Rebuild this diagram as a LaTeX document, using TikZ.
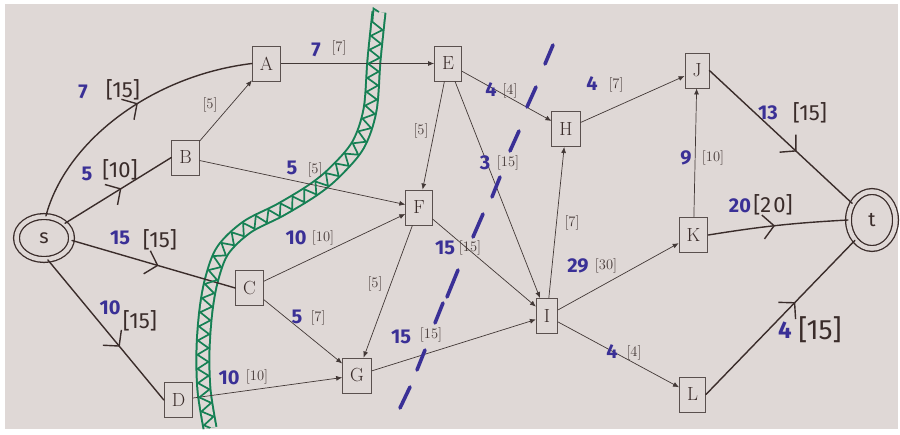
\documentclass[tikz,border=0pt]{standalone}
\usepackage{fontspec}
\newfontfamily\handfont{Fira Sans}
\usetikzlibrary{arrows.meta,decorations.markings,decorations.pathmorphing,shapes.geometric}
\definecolor{paper}{RGB}{223,216,214}
\definecolor{handink}{RGB}{58,44,42}
\definecolor{linecol}{RGB}{66,56,54}
\definecolor{boxcol}{RGB}{90,80,78}
\definecolor{printtext}{RGB}{70,58,56}
\definecolor{bluec}{RGB}{58,48,150}
\definecolor{greenc}{RGB}{22,128,84}
\tikzset{
  box/.style={draw=boxcol, line width=0.9pt, inner xsep=7.5pt, inner ysep=0pt, minimum height=35pt, font=\fontsize{19}{19}\selectfont, text=handink},
  pedge/.style={draw=linecol, line width=0.7pt, -{Latex[length=6pt,width=5pt]}},
  plabel/.style={font=\fontsize{14.5}{15}\selectfont, text=printtext, inner sep=0pt},
  bluenum/.style={font=\handfont\bfseries\fontsize{20}{20}\selectfont, text=bluec, inner sep=0pt},
  handbr/.style={font=\handfont\fontsize{22}{22}\selectfont, text=handink, inner sep=0pt},
  handedge/.style={draw=handink, line width=1.4pt, line cap=round, postaction={decorate},
    decoration={markings, mark=at position #1 with {\arrow{Straight Barb[length=11pt,width=24pt,line width=1.4pt,color=handink]}}}},
  handedge/.default=0.5,
  terminal/.style={ellipse, draw=handink, line width=1.3pt, double=paper, double distance=4.5pt, inner sep=0pt, font=\handfont\fontsize{20}{20}\selectfont, text=handink},
  bluedash/.style={draw=bluec, line width=3.6pt, line cap=round}
}
\begin{document}
\begin{tikzpicture}[x=1pt,y=-1pt]
\useasboundingbox (0,0) rectangle (900,434);
\fill[white] (0,0) rectangle (900,434);
\fill[paper] (5,4) rectangle (898,429);

% green cut: rails
\draw[greenc, line width=15pt] plot[smooth,tension=0.55] coordinates {(379,12) (374,60) (370,110) (358,145) (335,172) (313,190) (280,210) (247,227) (223,250) (212,278) (206,310) (203,350) (204,390) (210,428)};
\draw[paper, line width=11pt] plot[smooth,tension=0.55] coordinates {(379,12) (374,60) (370,110) (358,145) (335,172) (313,190) (280,210) (247,227) (223,250) (212,278) (206,310) (203,350) (204,390) (210,428)};

% nodes
\node[box] (A) at (266.5,63.5) {A};
\node[box] (B) at (185.5,157.5) {B};
\node[box] (C) at (249.5,288) {C};
\node[box] (D) at (178.5,400) {D};
\node[box] (E) at (448,63.5) {E};
\node[box] (F) at (419,207.5) {F};
\node[box] (G) at (357,375.5) {G};
\node[box] (H) at (566,129) {H};
\node[box] (I) at (547,316) {I};
\node[box] (J) at (697,70.5) {J};
\node[box] (K) at (693.5,235) {K};
\node[box] (L) at (692.5,394.5) {L};
\node[terminal, minimum width=55pt, minimum height=43pt] (s) at (44,238) {s};
\node[terminal, minimum width=47pt, minimum height=57pt] (t) at (872,220) {t};

% printed edges
\draw[pedge] (A) -- (E);
\draw[pedge] (B) -- (A);
\draw[pedge] (B) -- (F);
\draw[pedge] (E) -- (F);
\draw[pedge] (E) -- (H);
\draw[pedge] (E) -- (I);
\draw[pedge] (H) -- (J);
\draw[pedge] (I) -- (H);
\draw[pedge] (K) -- (J);
\draw[pedge] (C) -- (F);
\draw[pedge] (C) -- (G);
\draw[pedge] (F) -- (G);
\draw[pedge] (F) -- (I);
\draw[pedge] (G) -- (I);
\draw[pedge] (D) -- (G);
\draw[pedge] (I) -- (K);
\draw[pedge] (I) -- (L);

% hand-drawn edges
\draw[handedge=0.55] (s.85) .. controls +(20,-75) and +(-100,12) .. (A.west);
\draw[handedge=0.53] (s.35) -- (B.west);
\draw[handedge=0.53] (s.-5) -- (C.west);
\draw[handedge=0.62] (s.-80) -- (D.west);
\draw[handedge=0.61] (J.east) -- (t.140);
\draw[handedge=0.48] (K.east) to[bend left=3] (t.west);
\draw[handedge=0.6] (L.east) -- (t.-130);

% green zigzag
\draw[greenc, line width=1.7pt, decorate, decoration={zigzag, amplitude=5.5pt, segment length=14pt}] plot[smooth,tension=0.55] coordinates {(379,12) (374,60) (370,110) (358,145) (335,172) (313,190) (280,210) (247,227) (223,250) (212,278) (206,310) (203,350) (204,390) (210,428)};

% blue dashed cut
\draw[bluedash] (553,45) -- (545,64);
\draw[bluedash] (536,87) -- (527,107);
\draw[bluedash] (519,131) -- (510,151);
\draw[bluedash] (500,177) -- (492,197);
\draw[bluedash] (483,214) -- (473,237);
\draw[bluedash] (458,270) -- (447,297);
\draw[bluedash] (443,303) -- (435,323);
\draw[bluedash] (425,350) -- (417,370);
\draw[bluedash] (410,387) -- (400,408);

% hand labels
\node[bluenum] (n1) at (83,92) {7};
\node[handbr] (b1) at (123,90) {[15]};
\node[bluenum] (n2) at (87,174) {5};
\node[handbr] (b2) at (120,170) {[10]};
\node[bluenum] (n3) at (120,238) {15};
\node[handbr] (b3) at (160,240) {[15]};
\node[bluenum] (n4) at (110,308) {10};
\node[handbr] (b4) at (140,321) {[15]};
\node[bluenum] (n5) at (768,113) {13};
\node[handbr] (b5) at (810,113) {[15]};
\node[bluenum] (n6) at (740,206) {20};
\node[handbr] (b6) at (773,205) {[2\kern2pt0]};
\node[bluenum, font=\handfont\bfseries\fontsize{24}{24}\selectfont] (n7) at (785,330) {4};
\node[handbr, font=\handfont\fontsize{28}{28}\selectfont] (b7) at (820,330) {[15]};

% printed labels
\node[bluenum] (m1) at (316,50) {7};
\node[plabel] (p1) at (339,48) {[7]};
\node[plabel] (p2) at (210,105) {[5]};
\node[bluenum] (m3) at (292,168) {5};
\node[plabel] (p3) at (315,170) {[5]};
\node[plabel] (p4) at (421,131) {[5]};
\node[bluenum] (m5) at (491,90) {4};
\node[plabel] (p5) at (510,91) {[4]};
\node[bluenum] (m6) at (592,84) {4};
\node[plabel] (p6) at (616,85) {[7]};
\node[bluenum] (m7) at (686,158) {9};
\node[plabel] (p7) at (713,158) {[10]};
\node[bluenum] (m8) at (485,163) {3};
\node[plabel] (p8) at (508,163) {[15]};
\node[bluenum] (m9) at (296,238) {10};
\node[plabel] (p9) at (323,238) {[10]};
\node[plabel] (p10) at (375,284) {[5]};
\node[bluenum] (m11) at (297,317) {5};
\node[plabel] (p11) at (318,318) {[7]};
\node[bluenum] (m12) at (401,337) {15};
\node[plabel] (p12) at (431,335) {[15]};
\node[bluenum] (m13) at (229,378) {10};
\node[plabel] (p13) at (257,377) {[10]};
\node[bluenum] (m14) at (445,248) {15};
\node[plabel] (p14) at (470,248) {[15]};
\node[plabel] (p15) at (572,223) {[7]};
\node[bluenum] (m16) at (578,266) {29};
\node[plabel] (p16) at (606,266) {[30]};
\node[bluenum] (m17) at (612,352) {4};
\node[plabel] (p17) at (634,353) {[4]};
\end{tikzpicture}
\end{document}
